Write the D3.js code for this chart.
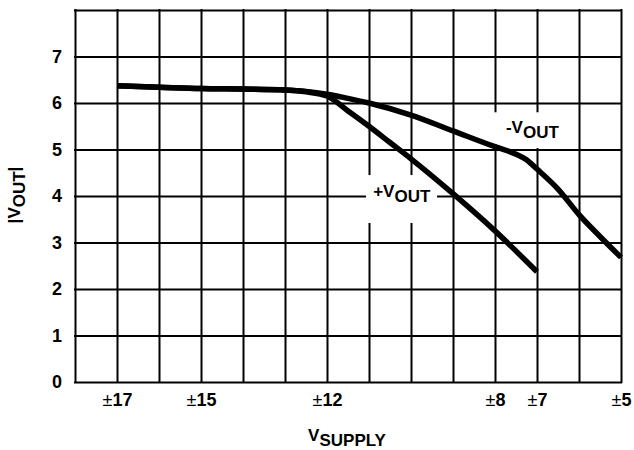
<!DOCTYPE html>
<html>
<head>
<meta charset="utf-8">
<script src="https://cdn.jsdelivr.net/npm/d3@7"></script>
<style>
  body { margin: 0; background: #fff; }
  svg { display: block; font-family: "Liberation Sans", Arial, sans-serif; }
  .grid line { stroke: #000; stroke-width: 2; }
  .grid path { display: none; }
</style>
</head>
<body>
<svg width="634" height="450"></svg>
<script>
const width = 634;
const height = 450;

// supply voltage (±V) and |VOUT|
const supplyPlus = [17, 16, 15, 14, 13, 12.5, 12, 11.5, 11, 10.5, 10, 9, 8, 7];
const voutPlus = [6.37, 6.34, 6.31, 6.30, 6.28, 6.24, 6.15, 5.83, 5.5, 5.15, 4.8, 4.05, 3.25, 2.37];

const supplyMinus = [17, 16, 15, 14, 13, 12.5, 12, 11.5, 11, 10, 9, 8, 7.5, 7.25, 7, 6.5, 6, 5.5, 5];
const voutMinus = [6.37, 6.34, 6.31, 6.30, 6.28, 6.25, 6.19, 6.1, 6.0, 5.74, 5.4, 5.06, 4.9, 4.78, 4.58, 4.15, 3.6, 3.13, 2.68];

const xTickValues = [17, 15, 12, 8, 7, 5];
const yTickValues = [0, 1, 2, 3, 4, 5, 6, 7];
const xGridValues = d3.range(5, 19);
const yGridValues = d3.range(0, 9);

const margin = { top: 10, right: 13, bottom: 68, left: 75 };

const svg = d3.select("svg");

const x = d3.scaleLinear()
  .domain([18, 5])
  .range([margin.left, width - margin.right]);

const y = d3.scaleLinear()
  .domain([0, 8])
  .range([height - margin.bottom, margin.top]);

// grid (also makes the frame)
svg.append("g")
  .attr("class", "grid")
  .attr("transform", `translate(0,${height - margin.bottom})`)
  .call(d3.axisBottom(x).tickValues(xGridValues).tickSize(-(y(0) - y(8))).tickFormat(""));

svg.append("g")
  .attr("class", "grid")
  .attr("transform", `translate(${margin.left},0)`)
  .call(d3.axisLeft(y).tickValues(yGridValues).tickSize(-(x(5) - x(18))).tickFormat(""));

svg.selectAll(".grid line").attr("stroke-linecap", "square");

// white patches behind the series labels
const labelBoxes = [
  { x0: 8.07, x1: 6.3, y0: 5.8, y1: 5.03 },
  { x0: 11.07, x1: 9.38, y0: 4.45, y1: 3.42 }
];
svg.append("g")
  .selectAll("rect")
  .data(labelBoxes)
  .join("rect")
  .attr("x", d => x(d.x0))
  .attr("y", d => y(d.y0))
  .attr("width", d => x(d.x1) - x(d.x0))
  .attr("height", d => y(d.y1) - y(d.y0))
  .attr("fill", "#fff");

// curves
const line = d3.line()
  .x(d => x(d[0]))
  .y(d => y(d[1]))
  .curve(d3.curveMonotoneX);

const series = [
  d3.zip(supplyMinus, voutMinus),
  d3.zip(supplyPlus, voutPlus)
];

svg.append("g")
  .selectAll("path")
  .data(series)
  .join("path")
  .attr("d", line)
  .attr("fill", "none")
  .attr("stroke", "#000")
  .attr("stroke-width", 5.5);

// axis labels
const xAxis = svg.append("g")
  .attr("transform", `translate(0,${height - margin.bottom})`)
  .call(d3.axisBottom(x).tickValues(xTickValues).tickSize(0).tickPadding(11).tickFormat(""));
xAxis.select(".domain").remove();
xAxis.selectAll(".tick text")
  .attr("font-size", 18)
  .attr("font-family", null)
  .attr("fill", "#000")
  .each(function(d) {
    const t = d3.select(this);
    t.append("tspan").attr("font-weight", "normal").text("±");
    t.append("tspan").attr("font-weight", "bold").text(d);
  });

const yAxis = svg.append("g")
  .attr("transform", `translate(${margin.left},0)`)
  .call(d3.axisLeft(y).tickValues(yTickValues).tickSize(0).tickPadding(13));
yAxis.select(".domain").remove();
yAxis.selectAll(".tick text")
  .attr("font-size", 18)
  .attr("font-family", null)
  .attr("font-weight", "bold")
  .attr("fill", "#000");

// titles
const xTitle = svg.append("text")
  .attr("x", 347)
  .attr("y", 441)
  .attr("text-anchor", "middle")
  .attr("font-size", 17)
  .attr("font-weight", "bold");
xTitle.append("tspan").text("V");
xTitle.append("tspan").attr("dy", 5).text("SUPPLY");

const yTitle = svg.append("text")
  .attr("transform", "translate(20,195) rotate(-90)")
  .attr("text-anchor", "middle")
  .attr("font-size", 17)
  .attr("font-weight", "bold");
yTitle.append("tspan").text("|V");
yTitle.append("tspan").attr("dy", 5).text("OUT");
yTitle.append("tspan").attr("dy", -5).text("|");

// series labels
const seriesLabels = [
  { text: "-V", sub: "OUT", v: 7.74, val: 5.35 },
  { text: "+V", sub: "OUT", v: 10.9, val: 3.985 }
];
svg.append("g")
  .selectAll("text")
  .data(seriesLabels)
  .join("text")
  .attr("x", d => x(d.v))
  .attr("y", d => y(d.val))
  .attr("font-size", 17)
  .attr("font-weight", "bold")
  .each(function(d) {
    const t = d3.select(this);
    t.append("tspan").text(d.text);
    t.append("tspan").attr("dy", 5).text(d.sub);
  });
</script>
</body>
</html>
